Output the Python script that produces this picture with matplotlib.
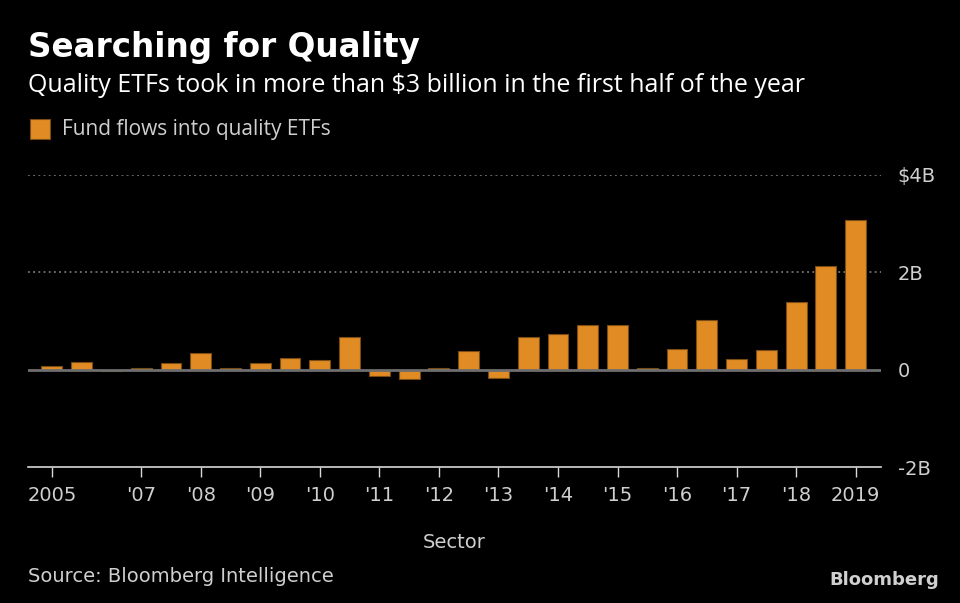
import numpy as np
import matplotlib.pyplot as plt

# half-year fund flows, billions of $
flows = [0.07, 0.16, -0.03, 0.04, 0.13, 0.34, 0.04, 0.13, 0.25, 0.19,
         0.67, -0.12, -0.20, 0.04, 0.38, -0.18, 0.67, 0.73, 0.92, 0.92,
         0.04, 0.43, 1.02, 0.22, 0.40, 1.39, 2.14, 3.08]
tick_pos = [0, 3, 5, 7, 9, 11, 13, 15, 17, 19, 21, 23, 25, 27]
tick_labels = ['2005', "'07", "'08", "'09", "'10", "'11", "'12", "'13",
               "'14", "'15", "'16", "'17", "'18", '2019']
y_ticks = [-2, 0, 2, 4]
y_labels = ['-2B', '0', '2B', '$4B']

bg = 'black'
orange = '#e08b24'
grey_txt = '#cfcfcf'
narrow = ['Liberation Sans Narrow', 'DejaVu Sans']

fig = plt.figure(figsize=(9.6, 6.03), dpi=100, facecolor=bg)
ax = fig.add_axes([0.0292, 0.2255, 0.8885, 0.4843], facecolor=bg)

x = np.arange(len(flows))
ax.bar(x, flows, width=0.7, color=orange, edgecolor='#7a4d14', linewidth=0.8, zorder=3)

ax.set_xlim(-0.8, 27.85)
ax.set_ylim(-2, 4)

# dotted gridlines
for yv in [2, 4]:
    ax.axhline(yv, color='#8a8a8a', linestyle=(0, (1.2, 2.2)), linewidth=1.1, zorder=1)
ax.axhline(0, color='#6e6e6e', linewidth=2, zorder=4)

for s in ['top', 'right', 'left']:
    ax.spines[s].set_visible(False)
ax.spines['bottom'].set_color('#d8d8d8')
ax.spines['bottom'].set_linewidth(1.2)

ax.set_xticks(tick_pos)
ax.set_xticklabels(tick_labels, family=narrow, fontsize=14, color=grey_txt)
ax.tick_params(axis='x', length=7, width=1, color='#d8d8d8', pad=7)

ax.yaxis.tick_right()
ax.set_yticks(y_ticks)
ax.set_yticklabels(y_labels, family=narrow, fontsize=14, color=grey_txt)
ax.tick_params(axis='y', length=0, pad=12)
for t in ax.get_yticklabels():
    t.set_horizontalalignment('left')

ax.set_xlabel('Sector', family=narrow, fontsize=14, color=grey_txt, labelpad=20)

fig.text(0.029, 1 - 47 / 603, 'Searching for Quality', fontsize=23.5, fontweight='bold',
         color='white', family='DejaVu Sans', va='center')
fig.text(0.029, 1 - 85 / 603, 'Quality ETFs took in more than $3 billion in the first half of the year',
         fontsize=18, color='white', family='Open Sans', va='center')
fig.patches.append(plt.Rectangle((30 / 960, 1 - 139 / 603), 20 / 960, 20 / 603,
                                 transform=fig.transFigure, facecolor=orange,
                                 edgecolor='#7a4d14', linewidth=0.8))
fig.text(62 / 960, 1 - 129 / 603, 'Fund flows into quality ETFs', fontsize=15,
         color=grey_txt, family='Open Sans', va='center')
fig.text(0.029, 1 - 576 / 603, 'Source: Bloomberg Intelligence', fontsize=14,
         color=grey_txt, family=narrow, va='center')
fig.text(0.978, 1 - 580 / 603, 'Bloomberg', fontsize=13, fontweight='bold',
         color='#d0d0d0', family=narrow, va='center', ha='right')

fig.savefig('out.png', dpi=100, facecolor=bg)
